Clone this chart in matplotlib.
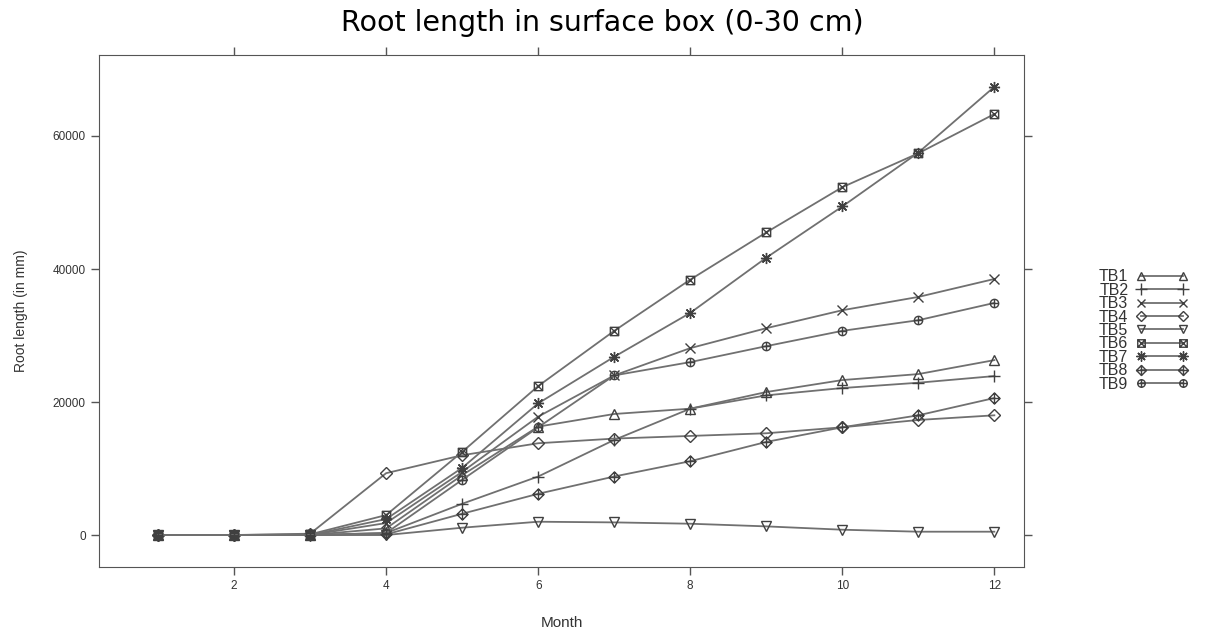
import numpy as np
import matplotlib
matplotlib.use('Agg')
import matplotlib.pyplot as plt
from matplotlib.path import Path

months = [1, 2, 3, 4, 5, 6, 7, 8, 9, 10, 11, 12]
series_names = ['TB1', 'TB2', 'TB3', 'TB4', 'TB5', 'TB6', 'TB7', 'TB8', 'TB9']

tb1 = [0, 0, 0, 1000, 9000, 16300, 18200, 19000, 21500, 23300, 24200, 26300]
tb2 = [0, 0, 0, 300, 4700, 8800, 14300, 19000, 21000, 22100, 22900, 23900]
tb3 = [0, 0, 0, 1800, 9500, 17800, 24000, 28100, 31100, 33800, 35800, 38500]
tb4 = [0, 0, 200, 9300, 12000, 13800, 14500, 14900, 15300, 16200, 17300, 18000]
tb5 = [0, 0, 0, 0, 1100, 2000, 1900, 1700, 1300, 800, 500, 500]
tb6 = [0, 0, 100, 3000, 12500, 22400, 30700, 38400, 45500, 52300, 57400, 63300]
tb7 = [0, 0, 0, 2400, 10100, 19800, 26800, 33400, 41700, 49400, 57500, 67400]
tb8 = [0, 0, 0, 100, 3200, 6200, 8800, 11100, 14000, 16200, 18000, 20600]
tb9 = [0, 0, 0, 300, 8300, 16200, 24000, 26000, 28400, 30700, 32300, 34900]
values = [tb1, tb2, tb3, tb4, tb5, tb6, tb7, tb8, tb9]


# lattice style compound symbols
def compound(outline, inner):
    return Path.make_compound_path(outline, *inner)

sq = Path([(-1, -1), (1, -1), (1, 1), (-1, 1), (-1, -1)],
          [Path.MOVETO, Path.LINETO, Path.LINETO, Path.LINETO, Path.CLOSEPOLY])
dia = Path([(0, -1), (1, 0), (0, 1), (-1, 0), (0, -1)],
           [Path.MOVETO, Path.LINETO, Path.LINETO, Path.LINETO, Path.CLOSEPOLY])
circ = Path.unit_circle()
cross_x = [Path([(-1, -1), (1, 1)]), Path([(-1, 1), (1, -1)])]
cross_p = [Path([(-1, 0), (1, 0)]), Path([(0, -1), (0, 1)])]

markers = ['^', '+', 'x', 'D', 'v',
           compound(sq, cross_x), (8, 2, 0),
           compound(dia, cross_p), compound(circ, cross_p)]
sizes = [7, 9, 7, 6, 7, 6, 8, 8, 6]

plt.rcParams['font.family'] = ['Liberation Sans', 'DejaVu Sans']

fig = plt.figure(figsize=(12.05, 6.32), dpi=100)
ax = fig.add_axes([0.0822, 0.1028, 0.7676, 0.8102])

line_col = '#707070'
mark_col = '#404040'
for name, v, m, s in zip(series_names, values, markers, sizes):
    ax.plot(months, v, color=line_col, lw=1.3, marker=m, markersize=s,
            markerfacecolor='none', markeredgecolor=mark_col,
            markeredgewidth=1.0, label=name)

ax.set_xlim(0.224, 12.39)
ax.set_ylim(-4812, 72180)
ax.set_xticks([2, 4, 6, 8, 10, 12])
ax.set_yticks([0, 20000, 40000, 60000])
ax.tick_params(direction='out', length=6, width=1, color='#555555',
               labelsize=8.5, labelcolor='#333333', top=True, right=True)
for sp in ax.spines.values():
    sp.set_color('#555555')

ax.set_xlabel('Month', fontsize=11, color='#333333', labelpad=17)
ax.set_ylabel('Root length (in mm)', fontsize=10, color='#333333', labelpad=18)

fig.suptitle('Root length in surface box (0-30 cm)', fontsize=20.5,
             family='DejaVu Sans', y=0.985)

fig.legend(loc='center left', bbox_to_anchor=(0.9, 0.477), frameon=False,
           markerfirst=False, numpoints=2, handlelength=3.2, handletextpad=0.5,
           labelspacing=-0.1, fontsize=11.5, markerscale=0.9,
           labelcolor='#333333')

fig.savefig('out.png', dpi=100)
